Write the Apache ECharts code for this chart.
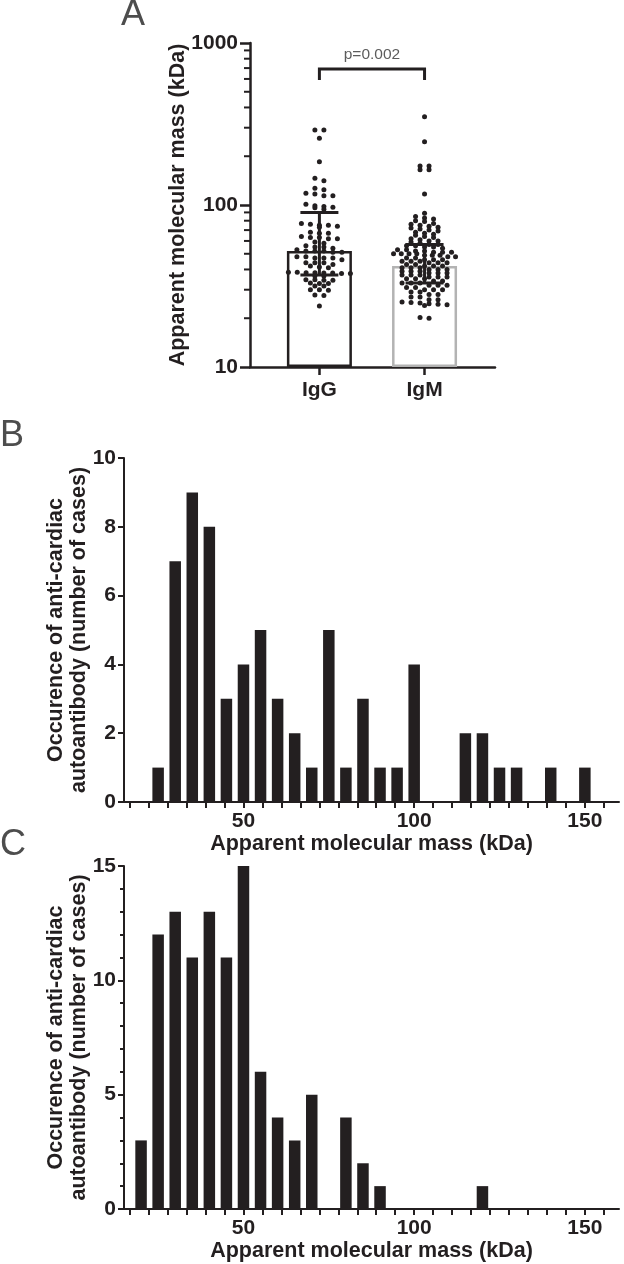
<!DOCTYPE html>
<html><head><meta charset="utf-8">
<script src="https://cdn.jsdelivr.net/npm/echarts@6/dist/echarts.min.js"></script>
<style>html,body{margin:0;padding:0;background:#fff}#c{width:624px;height:1264px}</style>
</head><body><div id="c"></div>
<script>
// ---------- Panel A data ----------
const groupNames = ['IgG', 'IgM'];
const groupCenters = [52, 42];
const groupErrLow = [37, 33];
const groupErrHigh = [90, 57];
const igG = [290, 290, 258, 185, 146, 141, 127, 124, 118, 117, 114, 114,
  101, 99, 98, 97, 96, 94, 77, 76, 75, 75, 74, 73, 68, 67, 67, 64, 63, 63, 62, 62,
  59, 58, 56, 55, 55, 54, 53, 52, 52, 52, 51, 51, 48, 48, 47, 47, 47, 46,
  44, 44, 44, 43, 42, 41.5, 41, 38.5, 38.5, 38.2, 38.2, 38, 38, 37.8, 37.8,
  36.5, 36.5, 34.5, 34.5, 34.3, 34.3, 33, 32.8, 32.8, 31.6, 31.6, 30, 30, 29.8, 27.8, 27.6, 23.8];
const igM = [351, 246, 174, 174, 165, 165, 117, 89, 85, 83, 82, 80, 79,
  77, 76, 75, 74, 73, 72, 71, 70, 69, 68, 67, 66, 65, 64, 63, 62, 61, 60, 60,
  59, 58, 57, 57, 56, 56, 55, 55, 54, 53, 53, 52, 52, 51, 51, 51, 50, 50, 50, 50, 49, 49, 49, 48,
  48, 47, 47, 46, 46, 46, 45, 45, 45, 44, 44, 44, 43, 43, 42, 42, 42, 41, 41, 41, 40, 40, 40, 39, 39, 39,
  38, 38, 38, 37, 37, 37, 36, 36, 36, 35, 35, 35, 34, 34, 33, 33, 33, 32, 32, 32, 31, 31, 30, 30, 30,
  29, 29, 28, 28, 27, 27, 26, 26, 25.2, 25, 24.8, 24.6, 24.4, 24.2, 24, 20.2, 20];
const pText = 'p=0.002';
const bracketTop = 690;
const bracketLeg = 590;
const pLabelY = 850;
const minorTicksA = [20, 30, 40, 50, 60, 70, 80, 90, 200, 300, 400, 500, 600, 700, 800, 900];

// ---------- Panel B data ----------
const binsB = [25, 30, 35, 40, 45, 50, 55, 60, 65, 70, 75, 80, 85, 90, 95, 100, 105, 110, 115, 120, 125, 130, 135, 140, 145, 150];
const countsB = [1, 7, 9, 8, 3, 4, 5, 3, 2, 1, 5, 1, 3, 1, 1, 4, 0, 0, 2, 2, 1, 1, 0, 1, 0, 1];

// ---------- Panel C data ----------
const binsC = [20, 25, 30, 35, 40, 45, 50, 55, 60, 65, 70, 75, 80, 85, 90, 95, 100, 105, 110, 115, 120];
const countsC = [3, 12, 13, 11, 13, 11, 15, 6, 4, 3, 5, 0, 4, 2, 1, 0, 0, 0, 0, 0, 1];

const xLabelsBC = [50, 100, 150];
const xTicksBC = [];
for (let k = -6; k <= 19; k++) xTicksBC.push(+(50 + k * 50 / 9).toFixed(4));

const FONT = 'Liberation Sans';
const INK = '#231f20';
const tickTxt = { color: INK, fontFamily: FONT, fontWeight: 'bold', fontSize: 21 };
const nameTxt = { color: INK, fontFamily: FONT, fontWeight: 'bold', fontSize: 21.5, lineHeight: 23 };

const chart = echarts.init(document.getElementById('c'), null, { width: 624, height: 1264 });

const histX = (gi) => ({
  gridIndex: gi, type: 'value', min: 15, max: 160,
  axisLine: { show: true, onZero: false, lineStyle: { color: INK, width: 2 } },
  axisTick: { show: true, customValues: xTicksBC, length: 6, lineStyle: { color: INK, width: 2 } },
  axisLabel: { show: true, customValues: xLabelsBC, margin: 9, ...tickTxt },
  splitLine: { show: false },
  name: 'Apparent molecular mass (kDa)', nameLocation: 'middle', nameGap: 31, nameMoveOverlap: false,
  nameTextStyle: nameTxt
});
const histY = (gi, max, interval, minor) => ({
  gridIndex: gi, type: 'value', min: 0, max: max, interval: interval,
  axisLine: { show: true, onZero: false, lineStyle: { color: INK, width: 2 } },
  axisTick: { show: true, length: 6, lineStyle: { color: INK, width: 2 } },
  minorTick: minor ? { show: true, splitNumber: minor, length: 4, lineStyle: { color: INK, width: 2 } } : { show: false },
  axisLabel: { show: true, margin: 8, ...tickTxt },
  splitLine: { show: false }, minorSplitLine: { show: false },
  name: 'Occurence of anti-cardiac\nautoantibody (number of cases)', nameLocation: 'middle', nameGap: 33,
  nameMoveOverlap: false, nameTextStyle: nameTxt
});

const option = {
  animation: false,
  backgroundColor: '#fff',
  graphic: [
    { type: 'text', left: 121, top: -3, style: { text: 'A', font: '36px "Liberation Sans", Arial', fill: '#4d4d4d' } },
    { type: 'text', left: 0, top: 418, style: { text: 'B', font: '36px "Liberation Sans", Arial', fill: '#4d4d4d' } },
    { type: 'text', left: 0, top: 827, style: { text: 'C', font: '36px "Liberation Sans", Arial', fill: '#4d4d4d' } }
  ],
  grid: [
    { left: 250, top: 43, width: 245, height: 324, outerBoundsMode: 'none', containLabel: false },
    { left: 124, top: 458, width: 495, height: 344, outerBoundsMode: 'none', containLabel: false },
    { left: 124, top: 866, width: 495, height: 343, outerBoundsMode: 'none', containLabel: false }
  ],
  xAxis: [
    {
      gridIndex: 0, type: 'value', min: 0.34, max: 2.67,
      axisLine: { show: true, onZero: false, lineStyle: { color: INK, width: 2.5 } },
      axisTick: { show: true, customValues: [1, 2], length: 8, lineStyle: { color: INK, width: 2.5 } },
      axisLabel: { show: true, customValues: [1, 2], margin: 13, formatter: v => groupNames[Math.round(v) - 1], ...tickTxt },
      splitLine: { show: false }
    },
    histX(1), histX(2)
  ],
  yAxis: [
    {
      gridIndex: 0, type: 'log', logBase: 10, min: 10, max: 1000, startValue: 10,
      axisLine: { show: true, onZero: false, lineStyle: { color: INK, width: 2.5 } },
      axisTick: { show: true, length: 10, lineStyle: { color: INK, width: 2.5 } },
      axisLabel: { show: true, margin: 12, formatter: v => String(Math.round(v)), ...tickTxt },
      splitLine: { show: false },
      name: 'Apparent molecular mass (kDa)', nameLocation: 'middle', nameGap: 60, nameMoveOverlap: false,
      nameTextStyle: nameTxt
    },
    histY(1, 10, 2, 0),
    histY(2, 15, 5, 5)
  ],
  series: [
    {
      id: 'barsA', type: 'bar', xAxisIndex: 0, yAxisIndex: 0, barWidth: 65, clip: true, z: 1,
      data: groupCenters.map((v, i) => ({
        value: [i + 1, v],
        itemStyle: { color: '#fff', borderColor: i ? '#b3b3b3' : INK, borderWidth: 2.5 }
      }))
    },
    { id: 'dotsG', type: 'scatter', xAxisIndex: 0, yAxisIndex: 0, symbolSize: 5, z: 3, itemStyle: { color: INK, opacity: 1 }, data: [] },
    { id: 'dotsM', type: 'scatter', xAxisIndex: 0, yAxisIndex: 0, symbolSize: 5, z: 3, itemStyle: { color: INK, opacity: 1 }, data: [] },
    {
      id: 'err', type: 'custom', xAxisIndex: 0, yAxisIndex: 0, z: 4, clip: false,
      data: groupCenters.map((v, i) => [i + 1, v, groupErrLow[i], groupErrHigh[i]]),
      renderItem: (params, api) => {
        const x = api.value(0);
        const lo = api.coord([x, api.value(2)]);
        const hi = api.coord([x, api.value(3)]);
        const hw = 19;
        const st = { stroke: INK, lineWidth: 3 };
        return {
          type: 'group', children: [
            { type: 'line', shape: { x1: lo[0], y1: lo[1], x2: hi[0], y2: hi[1] }, style: st },
            { type: 'line', shape: { x1: lo[0] - hw, y1: lo[1], x2: lo[0] + hw, y2: lo[1] }, style: st },
            { type: 'line', shape: { x1: hi[0] - hw, y1: hi[1], x2: hi[0] + hw, y2: hi[1] }, style: st }
          ]
        };
      }
    },
    {
      id: 'bracket', type: 'line', xAxisIndex: 0, yAxisIndex: 0, symbol: 'none', z: 4, clip: false,
      lineStyle: { color: INK, width: 3, cap: 'butt', join: 'miter' },
      data: [[1, bracketLeg], [1, bracketTop], [2, bracketTop], [2, bracketLeg]]
    },
    {
      id: 'pval', type: 'scatter', xAxisIndex: 0, yAxisIndex: 0, symbolSize: 0, z: 5,
      data: [[1.5, pLabelY]],
      label: { show: true, position: 'inside', formatter: pText, color: '#333', fontFamily: FONT, fontSize: 15.5 }
    },
    {
      id: 'minorA', type: 'custom', xAxisIndex: 0, yAxisIndex: 0, z: 4, clip: false,
      data: minorTicksA.map(v => [0.34, v]),
      renderItem: (params, api) => {
        const p = api.coord([api.value(0), api.value(1)]);
        return { type: 'line', shape: { x1: p[0] - 6, y1: p[1], x2: p[0], y2: p[1] }, style: { stroke: INK, lineWidth: 2 } };
      }
    },
    {
      id: 'barsB', type: 'bar', xAxisIndex: 1, yAxisIndex: 1, barWidth: 11.5,
      itemStyle: { color: INK },
      data: binsB.map((b, i) => [b, countsB[i]])
    },
    {
      id: 'barsC', type: 'bar', xAxisIndex: 2, yAxisIndex: 2, barWidth: 11.5,
      itemStyle: { color: INK },
      data: binsC.map((b, i) => [b, countsC[i]])
    }
  ]
};
chart.setOption(option);

// Beeswarm-style horizontal spreading computed through the chart's own scales
function swarm(vals, gx) {
  const ROW = 3, SP = 9, MAXW = 62;
  const p0 = chart.convertToPixel({ gridIndex: 0 }, [gx, 10]);
  const p1 = chart.convertToPixel({ gridIndex: 0 }, [gx + 1, 10]);
  const unit = p1[0] - p0[0];
  const pts = vals.map(v => ({ v: v, y: chart.convertToPixel({ gridIndex: 0 }, [gx, v])[1] }))
    .sort((a, b) => a.y - b.y);
  const rows = [];
  let cur = null;
  pts.forEach(p => {
    if (!cur || p.y - cur.y0 > ROW) { cur = { y0: p.y, items: [] }; rows.push(cur); }
    cur.items.push(p);
  });
  const out = [];
  rows.forEach(r => {
    const n = r.items.length;
    const s = n > 1 ? Math.min(SP, MAXW / (n - 1)) : 0;
    r.items.forEach((p, i) => out.push([gx + ((i - (n - 1) / 2) * s) / unit, p.v]));
  });
  return out;
}
chart.setOption({ series: [{ id: 'dotsG', data: swarm(igG, 1) }, { id: 'dotsM', data: swarm(igM, 2) }] });
</script>
</body></html>
